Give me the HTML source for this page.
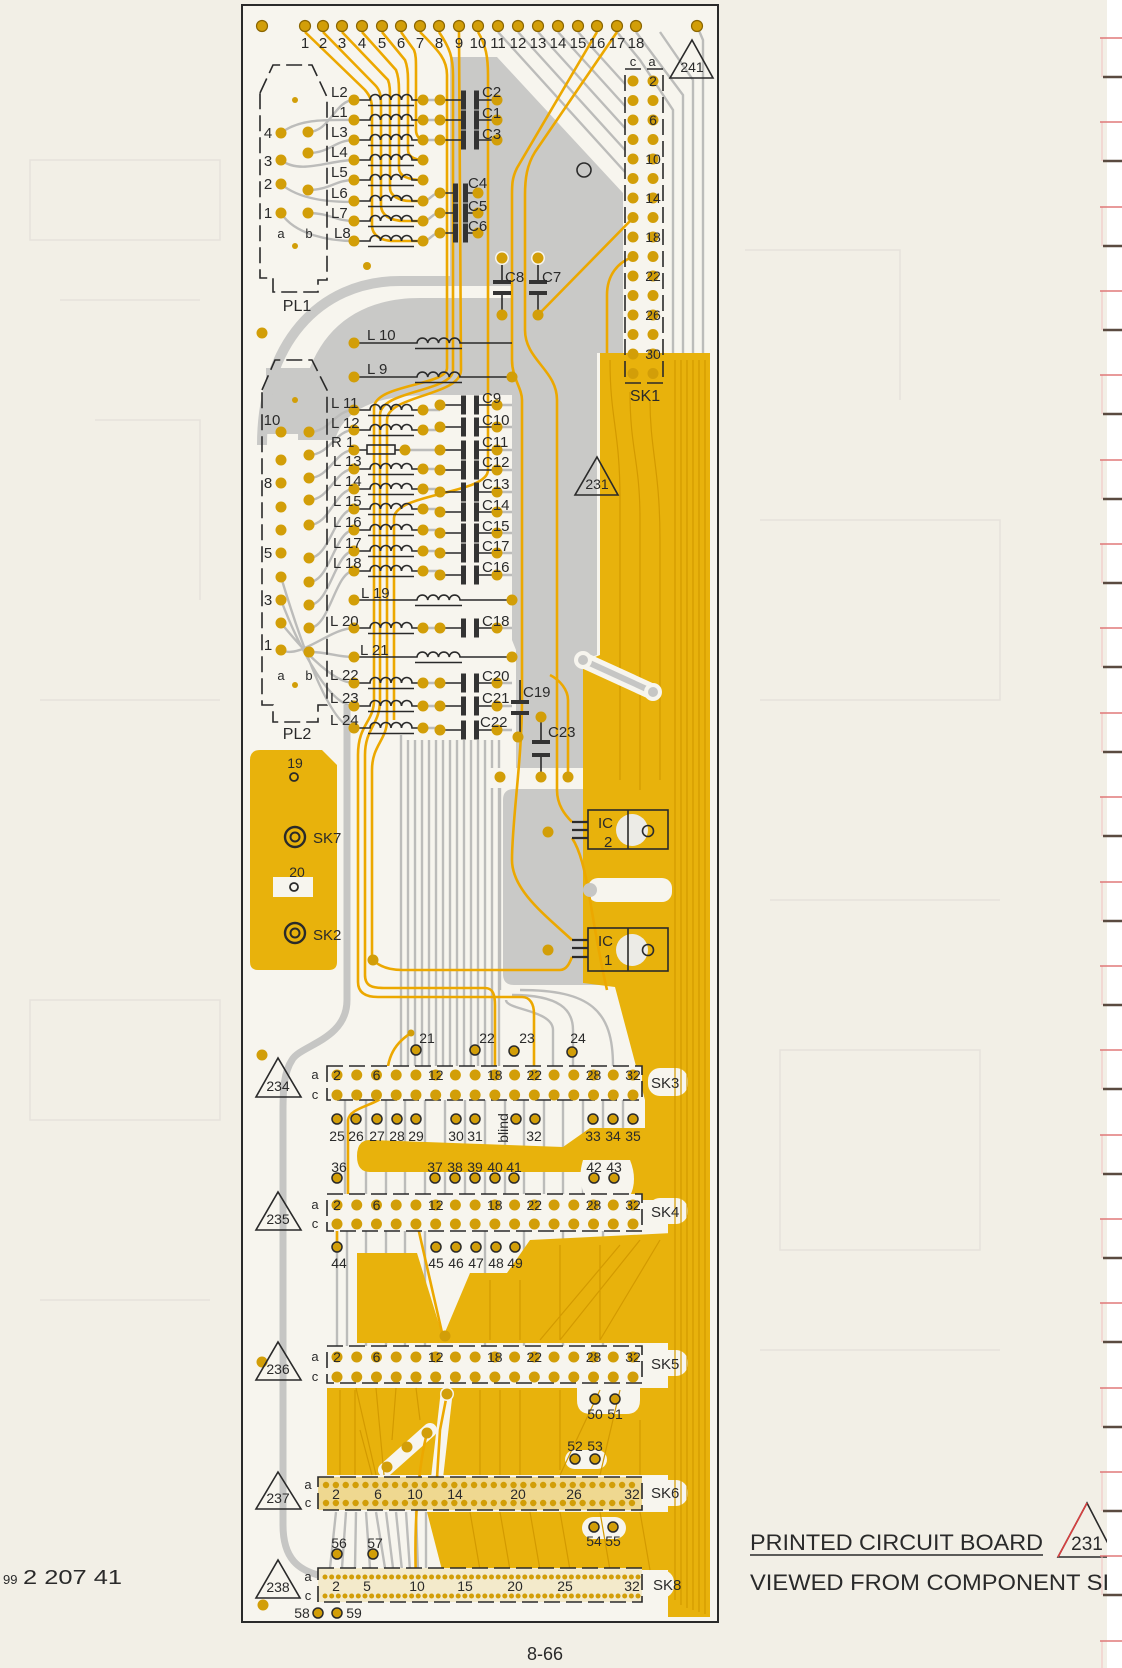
<!DOCTYPE html>
<html><head><meta charset="utf-8"><style>
html,body{margin:0;padding:0;background:#f2efe6;}
svg{display:block;}
text{font-family:"Liberation Sans","DejaVu Sans",sans-serif;fill:#2a2a2a;}
.g{stroke:#bcbcba;stroke-width:2.4;fill:none;}
.y{stroke:#eca800;stroke-width:2.6;fill:none;}
.yd{stroke:#d39a00;stroke-width:1.2;fill:none;}
.k{stroke:#2a2a2a;stroke-width:1.6;fill:none;}
.t{font-size:15px;}
.s{font-size:13px;}
.m{text-anchor:middle;}
</style></head><body>
<svg width="1122" height="1668" viewBox="0 0 1122 1668" xmlns="http://www.w3.org/2000/svg">
<defs>
 <circle id="p" r="5.5" fill="#d29e08"/>
 <circle id="pr" r="5.5" fill="#d29e08" stroke="#8a6500" stroke-width="1.2"/>
 <circle id="ph" r="5" fill="#d29e08" stroke="#2a2a2a" stroke-width="1.5"/>
 <path id="coil" d="M0,0 H16 a5.25,5.5 0 0 1 10.5,0 a5.25,5.5 0 0 1 10.5,0 a5.25,5.5 0 0 1 10.5,0 a5.25,5.5 0 0 1 10.5,0 H69 M14,5.5 H60" stroke="#2a2a2a" stroke-width="1.6" fill="none"/>
 <path id="coilL" d="M0,0 H63 a5.4,5.5 0 0 1 10.75,0 a5.4,5.5 0 0 1 10.75,0 a5.4,5.5 0 0 1 10.75,0 a5.4,5.5 0 0 1 10.75,0 H158 M61,5.5 H108" stroke="#2a2a2a" stroke-width="1.6" fill="none"/>
 <g id="cap"><path d="M0,0 H21 M39,0 H57" stroke="#2a2a2a" stroke-width="1.6"/><rect x="21" y="-9.5" width="5" height="19" fill="#333"/><rect x="34" y="-9.5" width="5" height="19" fill="#333"/></g>
 <g id="cap2"><path d="M0,0 H13 M28,0 H38" stroke="#2a2a2a" stroke-width="1.6"/><rect x="13" y="-9.5" width="5" height="19" fill="#333"/><rect x="23" y="-9.5" width="5" height="19" fill="#333"/></g>
 <g id="row16" fill="#d29e08">
  <circle cx="0" r="5.5"/><circle cx="19.73" r="5.5"/><circle cx="39.47" r="5.5"/><circle cx="59.2" r="5.5"/><circle cx="78.93" r="5.5"/><circle cx="98.67" r="5.5"/><circle cx="118.4" r="5.5"/><circle cx="138.13" r="5.5"/><circle cx="157.87" r="5.5"/><circle cx="177.6" r="5.5"/><circle cx="197.33" r="5.5"/><circle cx="217.07" r="5.5"/><circle cx="236.8" r="5.5"/><circle cx="256.53" r="5.5"/><circle cx="276.27" r="5.5"/><circle cx="296" r="5.5"/>
 </g>
 <g id="col16" fill="#d29e08">
  <circle cy="0" r="5.5"/><circle cy="19.5" r="5.5"/><circle cy="39" r="5.5"/><circle cy="58.5" r="5.5"/><circle cy="78" r="5.5"/><circle cy="97.5" r="5.5"/><circle cy="117" r="5.5"/><circle cy="136.5" r="5.5"/><circle cy="156" r="5.5"/><circle cy="175.5" r="5.5"/><circle cy="195" r="5.5"/><circle cy="214.5" r="5.5"/><circle cy="234" r="5.5"/><circle cy="253.5" r="5.5"/><circle cy="273" r="5.5"/><circle cy="292.5" r="5.5"/>
 </g>
 <g id="row32" fill="#d29e08">
  <circle cx="0" r="3.2"/><circle cx="9.87" r="3.2"/><circle cx="19.74" r="3.2"/><circle cx="29.61" r="3.2"/><circle cx="39.48" r="3.2"/><circle cx="49.35" r="3.2"/><circle cx="59.22" r="3.2"/><circle cx="69.09" r="3.2"/><circle cx="78.96" r="3.2"/><circle cx="88.83" r="3.2"/><circle cx="98.7" r="3.2"/><circle cx="108.57" r="3.2"/><circle cx="118.44" r="3.2"/><circle cx="128.31" r="3.2"/><circle cx="138.18" r="3.2"/><circle cx="148.05" r="3.2"/><circle cx="157.92" r="3.2"/><circle cx="167.79" r="3.2"/><circle cx="177.66" r="3.2"/><circle cx="187.53" r="3.2"/><circle cx="197.4" r="3.2"/><circle cx="207.27" r="3.2"/><circle cx="217.14" r="3.2"/><circle cx="227.01" r="3.2"/><circle cx="236.88" r="3.2"/><circle cx="246.75" r="3.2"/><circle cx="256.62" r="3.2"/><circle cx="266.49" r="3.2"/><circle cx="276.36" r="3.2"/><circle cx="286.23" r="3.2"/><circle cx="296.1" r="3.2"/><circle cx="305.97" r="3.2"/>
 </g>
 <g id="row48" fill="#d29e08">
  <circle cx="0" r="2.5"/><circle cx="6.66" r="2.5"/><circle cx="13.32" r="2.5"/><circle cx="19.98" r="2.5"/><circle cx="26.64" r="2.5"/><circle cx="33.3" r="2.5"/><circle cx="39.96" r="2.5"/><circle cx="46.62" r="2.5"/><circle cx="53.28" r="2.5"/><circle cx="59.94" r="2.5"/><circle cx="66.6" r="2.5"/><circle cx="73.26" r="2.5"/><circle cx="79.92" r="2.5"/><circle cx="86.58" r="2.5"/><circle cx="93.24" r="2.5"/><circle cx="99.9" r="2.5"/><circle cx="106.56" r="2.5"/><circle cx="113.22" r="2.5"/><circle cx="119.88" r="2.5"/><circle cx="126.54" r="2.5"/><circle cx="133.2" r="2.5"/><circle cx="139.86" r="2.5"/><circle cx="146.52" r="2.5"/><circle cx="153.18" r="2.5"/><circle cx="159.84" r="2.5"/><circle cx="166.5" r="2.5"/><circle cx="173.16" r="2.5"/><circle cx="179.82" r="2.5"/><circle cx="186.48" r="2.5"/><circle cx="193.14" r="2.5"/><circle cx="199.8" r="2.5"/><circle cx="206.46" r="2.5"/><circle cx="213.12" r="2.5"/><circle cx="219.78" r="2.5"/><circle cx="226.44" r="2.5"/><circle cx="233.1" r="2.5"/><circle cx="239.76" r="2.5"/><circle cx="246.42" r="2.5"/><circle cx="253.08" r="2.5"/><circle cx="259.74" r="2.5"/><circle cx="266.4" r="2.5"/><circle cx="273.06" r="2.5"/><circle cx="279.72" r="2.5"/><circle cx="286.38" r="2.5"/><circle cx="293.04" r="2.5"/><circle cx="299.7" r="2.5"/><circle cx="306.36" r="2.5"/><circle cx="313.02" r="2.5"/>
 </g>
</defs>

<!-- page -->
<rect x="0" y="0" width="1122" height="1668" fill="#f2efe6"/>
<g stroke="#e6e2dc" stroke-width="1.5" fill="none">
 <path d="M30,160 H220 V240 H30 Z M60,300 H200 M95,420 H200 V600 M40,700 H220 M30,1000 H220 V1120 H30 Z M40,1300 H210"/>
 <path d="M745,250 H900 V400 M760,520 H1000 V700 H760 M770,900 H1000 M780,1050 H980 V1250 H780 Z M760,1350 H1000"/>
</g>

<!-- board -->
<rect x="242" y="5" width="476" height="1617" fill="#f7f5ee" stroke="#2a2a2a" stroke-width="2"/>

<!-- gray regions -->
<g fill="#c9c9c7">
 <path d="M450,57 L497,57 L623,193 L623,353 L597,353 L597,580 L512,580 L512,286 L450,286 Z"/>
 <path d="M298,440 C298,350 340,298 420,298 L512,298 L512,395 L430,395 C385,395 345,405 335,440 Z"/>
 <rect x="266" y="368" width="58" height="66"/>
 <path d="M512,580 L597,580 L597,655 L583,660 L583,768 L516,768 L516,650 L512,640 Z"/>
 <path d="M503,800 Q503,789 514,789 L590,789 L590,965 L667,967 L667,985 L514,985 Q503,985 503,974 Z"/>
</g>
<path d="M262,445 C262,345 318,281 400,281 L512,281" stroke="#c9c9c7" stroke-width="10" fill="none"/>

<!-- gray traces -->
<g class="g">
 <path d="M308,132 C330,132 335,100 354,100 M281,133 C300,118 330,120 354,120 M308,153 C330,153 335,140 354,140 M281,160 C300,175 330,160 354,160 M308,190 C330,190 335,180 354,180 M281,184 C300,200 330,202 354,202 M308,213 C330,213 335,221 354,221 M281,213 C295,235 330,241 354,241"/>
 <path d="M423,100 H440 M423,120 H440 M423,140 H440 M423,201 C430,201 432,193 440,193 M423,221 C430,221 432,213 440,213 M423,241 C430,241 432,233 440,233"/>
 <path d="M498,32 L625,172 M518,32 L625,150 M538,32 L625,128 M558,32 L625,106 M578,32 L625,84"/>
 <path d="M617,32 L640,60 L673,110 L673,353 M636,32 L683,95 L683,353 M660,32 L693,80 L693,353 M697,26 L703,40 L703,353"/>
 <path d="M309,432 C330,432 335,410 354,410 M309,455 C330,455 335,430 354,430 M309,478 C330,478 335,450 354,450 M309,500 C330,500 335,469 354,469 M309,525 C330,525 335,489 354,489 M309,558 C330,558 335,509 354,509 M309,582 C330,582 335,530 354,530 M309,605 C330,605 335,551 354,551 M309,628 C330,628 335,571 354,571 M281,650 C300,660 330,628 354,628 M309,652 C330,652 335,657 354,657 M281,623 C295,640 330,683 354,683 M281,600 C300,650 330,706 354,706 M281,577 C300,640 330,728 354,728"/>
 <path d="M423,410 H440 M423,430 H440 M405,450 H440 M423,469 H440 M423,489 H440 M423,509 H440 M423,530 H440 M423,551 H440 M423,571 H440 M423,628 H440 M423,683 H440 M423,706 H440 M423,728 H440"/>
 <path d="M497,405 H512 M497,427 H512 M497,450 H512 M497,470 H512 M497,492 H512 M497,512 H512 M497,533 H512 M497,553 H512 M497,575 H512 M497,628 H512 M497,683 H512 M497,706 H512 M497,730 H512"/>
 <path d="M401,735 V1066 M408,740 V1066 M415,740 V1066 M422,740 V1066 M429,740 V1066 M436,740 V1066 M443,740 V1066 M450,740 V1066 M457,740 V1066 M464,740 V1066 M471,740 V1066 M478,740 V1066 M485,740 V1066 M492,740 V1066 M499,740 V1066"/>
 <path d="M500,777 V990 M506,1000 C506,1010 553,1010 553,1030 V1066 M512,995 C560,995 573,1010 573,1030 V1066 M520,990 C590,990 613,1010 613,1066"/>
 <path d="M345,1100 V1194 M366,1100 V1194 M386,1100 V1194 M405,1100 V1194 M425,1100 V1194 M445,1100 V1194 M465,1100 V1194 M485,1100 V1194 M505,1100 V1194 M524,1100 V1194 M544,1100 V1194 M563,1100 V1194 M583,1100 V1194 M603,1100 V1194 M623,1100 V1194"/>
 <path d="M337,1231 V1346 M347,1231 V1346 M366,1231 V1346 M386,1231 V1346 M405,1231 V1346 M425,1231 V1346 M485,1231 V1346 M524,1231 V1346 M563,1231 V1346 M603,1231 V1346"/>
 <path d="M336,1512 L330,1568 M346,1512 L342,1568 M356,1512 L355,1568 M366,1512 L370,1568 M376,1512 L385,1568 M386,1512 L397,1600 M396,1512 L405,1600 M406,1512 L412,1600 M416,1512 L419,1600 M426,1512 L426,1600"/>
</g>
<path d="M347,705 L347,1000 C347,1040 300,1045 292,1060 C284,1072 283,1090 283,1110 L283,1525 C283,1560 300,1570 318,1575" stroke="#c6c6c4" stroke-width="7" fill="none"/>

<!-- yellow regions -->
<g fill="#e8b20c">
 <path d="M600,353 L710,353 L710,1617 L668,1617 L668,1000 L615,987 L583,983 L583,662 L600,655 Z"/>
 <path d="M615,987 L672,987 L672,1200 L645,1200 L645,1100 Z"/>
 <path d="M370,1140 L563,1147 L590,1128 L672,1128 L672,1200 L600,1200 L585,1172 L370,1172 Q357,1172 357,1156 Q357,1140 370,1140 Z"/>
 <path d="M357,1253 L417,1253 L443,1337 L470,1273 L507,1273 L530,1240 L672,1233 L672,1343 L357,1343 Z"/>
 <path d="M327,1388 L672,1388 L672,1475 L327,1475 Z"/>
 <path d="M427,1512 L672,1512 L672,1570 L442,1570 Z"/>
 <path d="M260,750 L322,750 L337,765 L337,962 Q337,970 329,970 L258,970 Q250,970 250,962 L250,760 Q250,750 260,750 Z"/>
</g>
<!-- cutouts on yellow -->
<g fill="#f7f5ee">
 <rect x="588" y="878" width="84" height="24" rx="10"/>
 <rect x="273" y="877" width="40" height="20"/>
 <path d="M583,1160 Q577,1180 585,1196 L630,1196 Q638,1180 630,1160 Z"/>
 <path d="M577,1383 L640,1383 L640,1400 Q640,1414 626,1414 L591,1414 Q577,1414 577,1400 Z"/>
 <rect x="565" y="1450" width="42" height="19" rx="9.5"/>
 <rect x="582" y="1517" width="44" height="22" rx="11"/>
 <rect x="648" y="1068" width="40" height="28" rx="12"/>
 <rect x="648" y="1198" width="40" height="26" rx="12"/>
 <rect x="648" y="1350" width="40" height="26" rx="12"/>
 <rect x="648" y="1480" width="40" height="26" rx="12"/>
 <rect x="640" y="1570" width="34" height="28" rx="12"/>
</g>
<path d="M447,1390 L437,1478" stroke="#f7f5ee" stroke-width="12"/>
<path d="M430,1430 L385,1470" stroke="#f7f5ee" stroke-width="14" stroke-linecap="round"/>
<!-- darker lines in yellow -->
<g class="yd">
 <path d="M675,360 V1600 M681,360 V1605 M687,360 V1608 M693,360 V1610 M699,360 V1612 M705,360 V1614"/>
 <path d="M610,360 C610,420 620,430 620,500 V780 M630,392 C630,450 640,460 640,520 V790 M650,400 C650,450 660,470 660,540 V780"/>
 <path d="M660,1240 L600,1340 M640,1240 L560,1340 M620,1245 L540,1340 M560,1245 V1340 M600,1245 V1340 M520,1280 V1340 M490,1280 V1340"/>
 <path d="M356,1388 L376,1475 M376,1388 L384,1475 M396,1388 L392,1440 M416,1388 L420,1420 M360,1430 L372,1475"/>
 <path d="M600,1390 L560,1475 M620,1390 L600,1475 M640,1420 V1475 M520,1390 V1475 M480,1390 V1475 M500,1390 V1475 M560,1390 V1470 M340,1390 V1475 M355,1390 V1475"/>
 <path d="M470,1512 L480,1570 M500,1512 L510,1570 M530,1512 L540,1570 M560,1512 L570,1570 M600,1512 L610,1570 M640,1512 L650,1570"/>
</g>
<!-- white arm -->
<path d="M583,660 L653,692" stroke="#f7f5ee" stroke-width="16" stroke-linecap="round"/>
<path d="M583,660 L653,692" stroke="#c6c6c4" stroke-width="6"/>
<circle cx="583" cy="660" r="9" fill="#f7f5ee"/><circle cx="583" cy="660" r="5" fill="#c6c6c4"/>
<circle cx="653" cy="692" r="9" fill="#f7f5ee"/><circle cx="653" cy="692" r="5" fill="#c6c6c4"/>
<rect x="490" y="768" width="90" height="20" fill="#f7f5ee"/>

<!-- yellow traces -->
<g class="y">
 <path d="M305,32 L365,90 C370,96 372,100 372,110 L372,225 C372,235 380,241 395,241 L423,241"/>
 <path d="M323,32 L375,85 C380,90 381,95 381,105 L381,205 C381,215 390,221 405,221 L423,221"/>
 <path d="M342,32 L388,80 C390,85 390,90 390,100 L390,188 C390,196 400,201 410,201 L423,201"/>
 <path d="M362,32 L396,70 C398,75 399,80 399,90 L399,168 C399,176 408,180 423,180"/>
 <path d="M382,32 L405,60 C407,65 408,70 408,80 L408,150 C408,156 414,160 423,160"/>
 <path d="M401,32 L414,50 C416,55 416,60 416,70 L416,130 C416,136 420,140 423,140"/>
 <path d="M439,32 C450,48 453,58 453,75 L453,370 C453,392 380,390 380,415 L380,700 C380,725 365,728 365,755 L365,975 C365,986 372,988 384,988 L485,988 C493,988 495,995 495,1005 L495,1068"/>
 <path d="M420,32 C440,52 447,60 447,75 L447,368 C447,386 374,384 374,408 L374,700 C374,722 358,724 358,755 L358,982 C358,993 366,997 378,997 L522,997 C530,997 534,1004 534,1014 L534,1068"/>
 <path d="M459,32 L461,370 C461,396 387,395 387,420 L387,720 C387,740 372,745 372,770 L372,958"/>
 <path d="M478,32 C486,45 488,58 488,75 L488,470 C488,494 395,493 394,518 L394,720"/>
 <path d="M597,32 L517,168 C512,178 512,185 512,195 L512,360 C512,378 522,388 522,400 L522,700 C522,760 512,820 512,860 C512,890 545,915 572,940"/>
 <path d="M617,32 L535,152 C527,165 525,178 525,195 L525,330 C525,360 557,370 557,400 L557,790 C557,805 565,815 572,822"/>
 <path d="M538,315 L633,218"/>
 <path d="M633,257 C618,262 607,275 607,295 L607,353"/>
 <path d="M373,960 C380,967 390,970 402,970 L560,970 C567,970 570,962 572,957"/>
 <path d="M572,838 C580,850 585,870 590,900 C595,930 600,960 607,990"/>
 <path d="M568,777 L568,700 C568,690 560,680 550,675"/>
 <path d="M411,1033 C392,1045 386,1060 386,1090 C386,1105 350,1105 348,1120 L348,1200"/>
 <path d="M337,1223 L337,1247 M417,1223 L443,1337 M447,1394 L440,1430 L437,1478 M427,1433 C420,1460 412,1520 417,1600"/>
</g>

<!-- SK backgrounds -->
<rect x="327" y="1066" width="315" height="34" fill="#f7f5ee"/>
<rect x="327" y="1194" width="315" height="37" fill="#f7f5ee"/>
<rect x="327" y="1346" width="315" height="37" fill="#f7f5ee"/>
<rect x="318" y="1477" width="324" height="33" fill="#efd890"/>
<rect x="318" y="1568" width="324" height="34" fill="#f3eacb"/>

<!-- outlines -->
<g class="k" stroke-dasharray="16,6">
 <path d="M260,93 L273,65 L312,65 L327,97 L327,280 L318,280 L318,292 L273,292 L273,278 L260,278 Z"/>
 <path d="M262,390 L275,360 L312,360 L327,390 L327,705 L318,705 L318,722 L273,722 L273,705 L262,705 Z"/>
 <rect x="625" y="69" width="38" height="314"/>
 <rect x="327" y="1066" width="315" height="34"/>
 <rect x="327" y="1194" width="315" height="37"/>
 <rect x="327" y="1346" width="315" height="37"/>
 <rect x="318" y="1477" width="324" height="33"/>
 <rect x="318" y="1568" width="324" height="34"/>
</g>

<!-- inductors -->
<use href="#coil" x="354" y="100"/><use href="#coil" x="354" y="120"/><use href="#coil" x="354" y="140"/><use href="#coil" x="354" y="160"/>
<use href="#coil" x="354" y="180"/><use href="#coil" x="354" y="201"/><use href="#coil" x="354" y="221"/><use href="#coil" x="354" y="241"/>
<use href="#coilL" x="354" y="343"/><use href="#coilL" x="354" y="377"/>
<use href="#coil" x="354" y="410"/><use href="#coil" x="354" y="430"/>
<path d="M354,450 H367 M395,450 H405" class="k"/><rect x="367" y="445" width="28" height="9" class="k"/>
<use href="#coil" x="354" y="469"/><use href="#coil" x="354" y="489"/><use href="#coil" x="354" y="509"/><use href="#coil" x="354" y="530"/>
<use href="#coil" x="354" y="551"/><use href="#coil" x="354" y="571"/>
<use href="#coilL" x="354" y="600"/><use href="#coil" x="354" y="628"/><use href="#coilL" x="354" y="657"/>
<use href="#coil" x="354" y="683"/><use href="#coil" x="354" y="706"/><use href="#coil" x="354" y="728"/>

<!-- capacitors -->
<use href="#cap" x="440" y="100"/><use href="#cap" x="440" y="120"/><use href="#cap" x="440" y="140"/>
<use href="#cap2" x="440" y="193"/><use href="#cap2" x="440" y="213"/><use href="#cap2" x="440" y="233"/>
<use href="#cap" x="440" y="405"/><use href="#cap" x="440" y="427"/><use href="#cap" x="440" y="450"/><use href="#cap" x="440" y="470"/>
<use href="#cap" x="440" y="492"/><use href="#cap" x="440" y="512"/><use href="#cap" x="440" y="533"/><use href="#cap" x="440" y="553"/>
<use href="#cap" x="440" y="575"/><use href="#cap" x="440" y="628"/><use href="#cap" x="440" y="683"/><use href="#cap" x="440" y="706"/><use href="#cap" x="440" y="730"/>
<!-- vertical caps -->
<g fill="#333">
 <path d="M502,258 V281 M502,295 V315 M538,258 V281 M538,295 V315 M520,680 V701 M520,715 V737 M541,717 V741 M541,757 V777" class="k"/>
 <rect x="493" y="280" width="18" height="4"/><rect x="493" y="291" width="18" height="4"/>
 <rect x="529" y="280" width="18" height="4"/><rect x="529" y="291" width="18" height="4"/>
 <rect x="511" y="700" width="18" height="4"/><rect x="511" y="711" width="18" height="4"/>
 <rect x="532" y="740" width="18" height="4"/><rect x="532" y="753" width="18" height="4"/>
</g>

<!-- ICs -->
<circle cx="632" cy="830" r="16" fill="#ecebe6"/>
<circle cx="632" cy="950" r="16" fill="#ecebe6"/>
<g class="k">
 <rect x="588" y="810" width="80" height="39"/><path d="M628,810 V849"/>
 <rect x="588" y="928" width="80" height="43"/><path d="M628,928 V971"/>
 <path d="M572,822 H588 M572,830 H588 M572,838 H588 M572,940 H588 M572,948 H588 M572,957 H588" stroke-width="2.2"/>
 <circle cx="648" cy="831" r="5.5"/><circle cx="648" cy="950" r="5.5"/>
 <circle cx="584" cy="170" r="7"/>
</g>

<!-- pads -->
<g>
 <use href="#pr" x="262" y="26"/><use href="#pr" x="305" y="26"/><use href="#pr" x="323" y="26"/><use href="#pr" x="342" y="26"/><use href="#pr" x="362" y="26"/><use href="#pr" x="382" y="26"/><use href="#pr" x="401" y="26"/><use href="#pr" x="420" y="26"/><use href="#pr" x="439" y="26"/><use href="#pr" x="459" y="26"/><use href="#pr" x="478" y="26"/><use href="#pr" x="498" y="26"/><use href="#pr" x="518" y="26"/><use href="#pr" x="538" y="26"/><use href="#pr" x="558" y="26"/><use href="#pr" x="578" y="26"/><use href="#pr" x="597" y="26"/><use href="#pr" x="617" y="26"/><use href="#pr" x="636" y="26"/><use href="#pr" x="697" y="26"/>
 <use href="#p" x="262" y="333"/><use href="#p" x="262" y="1055"/><use href="#p" x="262" y="1362"/><use href="#p" x="263" y="1605"/>
 <circle cx="367" cy="266" r="4" fill="#d29e08"/>
 <use href="#p" x="281" y="133"/><use href="#p" x="281" y="160"/><use href="#p" x="281" y="184"/><use href="#p" x="281" y="213"/>
 <use href="#p" x="308" y="132"/><use href="#p" x="308" y="153"/><use href="#p" x="308" y="190"/><use href="#p" x="308" y="213"/>
 <circle cx="295" cy="100" r="3" fill="#d29e08"/><circle cx="295" cy="246" r="3" fill="#d29e08"/>
 <use href="#p" x="281" y="432"/><use href="#p" x="281" y="460"/><use href="#p" x="281" y="483"/><use href="#p" x="281" y="507"/><use href="#p" x="281" y="530"/><use href="#p" x="281" y="553"/><use href="#p" x="281" y="577"/><use href="#p" x="281" y="600"/><use href="#p" x="281" y="623"/><use href="#p" x="281" y="650"/>
 <use href="#p" x="309" y="432"/><use href="#p" x="309" y="455"/><use href="#p" x="309" y="478"/><use href="#p" x="309" y="500"/><use href="#p" x="309" y="525"/><use href="#p" x="309" y="558"/><use href="#p" x="309" y="582"/><use href="#p" x="309" y="605"/><use href="#p" x="309" y="628"/><use href="#p" x="309" y="652"/>
 <circle cx="295" cy="400" r="3" fill="#d29e08"/><circle cx="295" cy="685" r="3" fill="#d29e08"/>
 <use href="#p" x="354" y="100"/><use href="#p" x="354" y="120"/><use href="#p" x="354" y="140"/><use href="#p" x="354" y="160"/><use href="#p" x="354" y="180"/><use href="#p" x="354" y="201"/><use href="#p" x="354" y="221"/><use href="#p" x="354" y="241"/>
 <use href="#p" x="423" y="100"/><use href="#p" x="423" y="120"/><use href="#p" x="423" y="140"/><use href="#p" x="423" y="160"/><use href="#p" x="423" y="180"/><use href="#p" x="423" y="201"/><use href="#p" x="423" y="221"/><use href="#p" x="423" y="241"/>
 <use href="#p" x="354" y="343"/><use href="#p" x="354" y="377"/><use href="#p" x="512" y="377"/>
 <use href="#p" x="354" y="410"/><use href="#p" x="354" y="430"/><use href="#p" x="354" y="450"/><use href="#p" x="354" y="469"/><use href="#p" x="354" y="489"/><use href="#p" x="354" y="509"/><use href="#p" x="354" y="530"/><use href="#p" x="354" y="551"/><use href="#p" x="354" y="571"/><use href="#p" x="354" y="600"/><use href="#p" x="354" y="628"/><use href="#p" x="354" y="657"/><use href="#p" x="354" y="683"/><use href="#p" x="354" y="706"/><use href="#p" x="354" y="728"/>
 <use href="#p" x="423" y="410"/><use href="#p" x="423" y="430"/><use href="#p" x="405" y="450"/><use href="#p" x="423" y="469"/><use href="#p" x="423" y="489"/><use href="#p" x="423" y="509"/><use href="#p" x="423" y="530"/><use href="#p" x="423" y="551"/><use href="#p" x="423" y="571"/><use href="#p" x="423" y="628"/><use href="#p" x="423" y="683"/><use href="#p" x="423" y="706"/><use href="#p" x="423" y="728"/>
 <use href="#p" x="512" y="600"/><use href="#p" x="512" y="657"/>
 <use href="#p" x="440" y="100"/><use href="#p" x="440" y="120"/><use href="#p" x="440" y="140"/><use href="#p" x="497" y="100"/><use href="#p" x="497" y="120"/><use href="#p" x="497" y="140"/>
 <use href="#p" x="440" y="193"/><use href="#p" x="440" y="213"/><use href="#p" x="440" y="233"/><use href="#p" x="478" y="193"/><use href="#p" x="478" y="213"/><use href="#p" x="478" y="233"/>
 <use href="#p" x="440" y="405"/><use href="#p" x="440" y="427"/><use href="#p" x="440" y="450"/><use href="#p" x="440" y="470"/><use href="#p" x="440" y="492"/><use href="#p" x="440" y="512"/><use href="#p" x="440" y="533"/><use href="#p" x="440" y="553"/><use href="#p" x="440" y="575"/><use href="#p" x="440" y="628"/><use href="#p" x="440" y="683"/><use href="#p" x="440" y="706"/><use href="#p" x="440" y="730"/>
 <use href="#p" x="497" y="405"/><use href="#p" x="497" y="427"/><use href="#p" x="497" y="450"/><use href="#p" x="497" y="470"/><use href="#p" x="497" y="492"/><use href="#p" x="497" y="512"/><use href="#p" x="497" y="533"/><use href="#p" x="497" y="553"/><use href="#p" x="497" y="575"/><use href="#p" x="497" y="628"/><use href="#p" x="497" y="683"/><use href="#p" x="497" y="706"/><use href="#p" x="497" y="730"/>
 <circle cx="502" cy="258" r="7" fill="#f7f5ee"/><circle cx="538" cy="258" r="7" fill="#f7f5ee"/>
 <use href="#p" x="502" y="258"/><use href="#p" x="538" y="258"/><use href="#p" x="502" y="315"/><use href="#p" x="538" y="315"/>
 <use href="#p" x="518" y="737"/><use href="#p" x="541" y="717"/><use href="#p" x="541" y="777"/><use href="#p" x="500" y="777"/><use href="#p" x="568" y="777"/>
 <use href="#p" x="548" y="832"/><use href="#p" x="548" y="950"/>
 <circle cx="590" cy="890" r="7" fill="#c6c6c4"/>
 <use href="#p" x="373" y="960"/>
 <use href="#col16" x="633" y="81"/><use href="#col16" x="653" y="81"/>
 <use href="#row16" x="337" y="1075"/><use href="#row16" x="337" y="1095"/>
 <use href="#row16" x="337" y="1205"/><use href="#row16" x="337" y="1224"/>
 <use href="#row16" x="337" y="1357"/><use href="#row16" x="337" y="1377"/>
 <use href="#row32" x="326" y="1485"/><use href="#row32" x="326" y="1503"/>
 <use href="#row48" x="325" y="1577"/><use href="#row48" x="325" y="1596"/>
 <circle cx="411" cy="1033" r="3.5" fill="#d29e08"/>
 <use href="#ph" x="416" y="1050"/><use href="#ph" x="475" y="1050"/><use href="#ph" x="514" y="1051"/><use href="#ph" x="572" y="1052"/>
 <use href="#ph" x="337" y="1119"/><use href="#ph" x="356" y="1119"/><use href="#ph" x="377" y="1119"/><use href="#ph" x="397" y="1119"/><use href="#ph" x="416" y="1119"/><use href="#ph" x="456" y="1119"/><use href="#ph" x="475" y="1119"/><use href="#ph" x="516" y="1119"/><use href="#ph" x="535" y="1119"/><use href="#ph" x="593" y="1119"/><use href="#ph" x="613" y="1119"/><use href="#ph" x="633" y="1119"/>
 <use href="#ph" x="337" y="1178"/><use href="#ph" x="435" y="1178"/><use href="#ph" x="455" y="1178"/><use href="#ph" x="475" y="1178"/><use href="#ph" x="495" y="1178"/><use href="#ph" x="514" y="1178"/><use href="#ph" x="594" y="1178"/><use href="#ph" x="614" y="1178"/>
 <use href="#ph" x="337" y="1247"/><use href="#ph" x="436" y="1247"/><use href="#ph" x="456" y="1247"/><use href="#ph" x="476" y="1247"/><use href="#ph" x="496" y="1247"/><use href="#ph" x="515" y="1247"/>
 <use href="#ph" x="595" y="1399"/><use href="#ph" x="615" y="1399"/><use href="#ph" x="575" y="1459"/><use href="#ph" x="595" y="1459"/>
 <use href="#ph" x="594" y="1527"/><use href="#ph" x="613" y="1527"/><use href="#ph" x="337" y="1554"/><use href="#ph" x="373" y="1554"/>
 <use href="#ph" x="318" y="1613"/><use href="#ph" x="337" y="1613"/>
 <use href="#p" x="445" y="1336"/>
 <circle cx="447" cy="1394" r="7" fill="#f7f5ee"/><use href="#p" x="447" y="1394"/>
 <use href="#p" x="427" y="1433"/><use href="#p" x="407" y="1447"/><use href="#p" x="387" y="1467"/>
</g>
<g stroke="#2a2a2a" fill="none">
 <circle cx="295" cy="837" r="10" stroke-width="2.4"/><circle cx="295" cy="837" r="4.5" stroke-width="2"/>
 <circle cx="295" cy="933" r="10" stroke-width="2.4"/><circle cx="295" cy="933" r="4.5" stroke-width="2"/>
 <circle cx="294" cy="777" r="4" stroke-width="1.8"/><circle cx="294" cy="887" r="4" stroke-width="1.8"/>
</g>

<!-- triangles -->
<g class="k">
 <path d="M670,78 L713,78 L692,40 Z"/>
 <path d="M575,495 L618,495 L597,457 Z"/>
 <path d="M256,1097 L301,1097 L278,1058 Z"/>
 <path d="M256,1230 L301,1230 L278,1192 Z"/>
 <path d="M256,1380 L301,1380 L278,1342 Z"/>
 <path d="M256,1509 L301,1509 L278,1472 Z"/>
 <path d="M256,1598 L300,1598 L278,1560 Z"/>
 <path d="M1058,1557 L1115,1557 L1087,1503 Z"/>
</g>
<path d="M1058,1557 L1087,1503" stroke="#d84040" stroke-width="1.6"/>

<!-- text -->
<g class="t m">
 <text x="305" y="48">1</text><text x="323" y="48">2</text><text x="342" y="48">3</text><text x="362" y="48">4</text><text x="382" y="48">5</text><text x="401" y="48">6</text><text x="420" y="48">7</text><text x="439" y="48">8</text><text x="459" y="48">9</text><text x="478" y="48">10</text><text x="498" y="48">11</text><text x="518" y="48">12</text><text x="538" y="48">13</text><text x="558" y="48">14</text><text x="578" y="48">15</text><text x="597" y="48">16</text><text x="617" y="48">17</text><text x="636" y="48">18</text>
 <text x="692" y="72" style="font-size:14px">241</text>
 <text x="597" y="489" style="font-size:14px">231</text>
 <text x="278" y="1091" style="font-size:14px">234</text>
 <text x="278" y="1224" style="font-size:14px">235</text>
 <text x="278" y="1374" style="font-size:14px">236</text>
 <text x="278" y="1503" style="font-size:14px">237</text>
 <text x="278" y="1592" style="font-size:14px">238</text>
 <text x="297" y="311" style="font-size:16px">PL1</text>
 <text x="297" y="739" style="font-size:16px">PL2</text>
 <text x="645" y="401" style="font-size:16px">SK1</text>
 <text x="268" y="138">4</text><text x="268" y="166">3</text><text x="268" y="189">2</text><text x="268" y="218">1</text>
 <text x="281" y="238" class="s">a</text><text x="309" y="238" class="s">b</text>
 <text x="272" y="425">10</text><text x="268" y="488">8</text><text x="268" y="558">5</text><text x="268" y="605">3</text><text x="268" y="650">1</text>
 <text x="281" y="680" class="s">a</text><text x="309" y="680" class="s">b</text>
 <text x="633" y="66" class="s">c</text><text x="652" y="66" class="s">a</text>
 <text x="653" y="86" style="font-size:14px">2</text><text x="653" y="125" style="font-size:14px">6</text><text x="653" y="164" style="font-size:14px">10</text><text x="653" y="203" style="font-size:14px">14</text><text x="653" y="242" style="font-size:14px">18</text><text x="653" y="281" style="font-size:14px">22</text><text x="653" y="320" style="font-size:14px">26</text><text x="653" y="359" style="font-size:14px">30</text>
 <text x="295" y="768" style="font-size:14px">19</text><text x="297" y="877" style="font-size:14px">20</text>
</g>
<g class="t">
 <text x="331" y="97">L2</text><text x="331" y="117">L1</text><text x="331" y="137">L3</text><text x="331" y="157">L4</text><text x="331" y="177">L5</text><text x="331" y="198">L6</text><text x="331" y="218">L7</text><text x="334" y="238">L8</text>
 <text x="482" y="97">C2</text><text x="482" y="118">C1</text><text x="482" y="139">C3</text>
 <text x="468" y="188">C4</text><text x="468" y="211">C5</text><text x="468" y="231">C6</text>
 <text x="505" y="282">C8</text><text x="542" y="282">C7</text>
 <text x="367" y="340">L 10</text><text x="367" y="374">L 9</text>
 <text x="331" y="408">L 11</text><text x="331" y="428">L 12</text><text x="331" y="447">R 1</text><text x="333" y="466">L 13</text><text x="333" y="486">L 14</text><text x="333" y="506">L 15</text><text x="333" y="527">L 16</text><text x="333" y="548">L 17</text><text x="333" y="568">L 18</text>
 <text x="361" y="598">L 19</text><text x="330" y="626">L 20</text><text x="360" y="655">L 21</text><text x="330" y="680">L 22</text><text x="330" y="703">L 23</text><text x="330" y="725">L 24</text>
 <text x="482" y="403">C9</text><text x="482" y="425">C10</text><text x="482" y="447">C11</text><text x="482" y="467">C12</text><text x="482" y="489">C13</text><text x="482" y="510">C14</text><text x="482" y="531">C15</text><text x="482" y="551">C17</text><text x="482" y="572">C16</text>
 <text x="482" y="626">C18</text><text x="482" y="681">C20</text><text x="482" y="703">C21</text><text x="480" y="727">C22</text>
 <text x="523" y="697">C19</text><text x="548" y="737">C23</text>
 <text x="598" y="828">IC</text><text x="604" y="847">2</text>
 <text x="598" y="946">IC</text><text x="604" y="965">1</text>
 <text x="313" y="843">SK7</text><text x="313" y="940">SK2</text>
 <text x="651" y="1088">SK3</text><text x="651" y="1217">SK4</text><text x="651" y="1369">SK5</text><text x="651" y="1498">SK6</text><text x="653" y="1590">SK8</text>
</g>
<g class="m" style="font-size:14px">
 <text x="337" y="1080">2</text><text x="376.5" y="1080">6</text><text x="435.7" y="1080">12</text><text x="494.8" y="1080">18</text><text x="534.3" y="1080">22</text><text x="593.5" y="1080">28</text><text x="633" y="1080">32</text>
 <text x="337" y="1210">2</text><text x="376.5" y="1210">6</text><text x="435.7" y="1210">12</text><text x="494.8" y="1210">18</text><text x="534.3" y="1210">22</text><text x="593.5" y="1210">28</text><text x="633" y="1210">32</text>
 <text x="337" y="1362">2</text><text x="376.5" y="1362">6</text><text x="435.7" y="1362">12</text><text x="494.8" y="1362">18</text><text x="534.3" y="1362">22</text><text x="593.5" y="1362">28</text><text x="633" y="1362">32</text>
 <text x="336" y="1499">2</text><text x="378" y="1499">6</text><text x="415" y="1499">10</text><text x="455" y="1499">14</text><text x="518" y="1499">20</text><text x="574" y="1499">26</text><text x="632" y="1499">32</text>
 <text x="336" y="1591">2</text><text x="367" y="1591">5</text><text x="417" y="1591">10</text><text x="465" y="1591">15</text><text x="515" y="1591">20</text><text x="565" y="1591">25</text><text x="632" y="1591">32</text>
 <text x="427" y="1043">21</text><text x="487" y="1043">22</text><text x="527" y="1043">23</text><text x="578" y="1043">24</text>
 <text x="337" y="1141">25</text><text x="356" y="1141">26</text><text x="377" y="1141">27</text><text x="397" y="1141">28</text><text x="416" y="1141">29</text><text x="456" y="1141">30</text><text x="475" y="1141">31</text><text x="534" y="1141">32</text><text x="593" y="1141">33</text><text x="613" y="1141">34</text><text x="633" y="1141">35</text>
 <text x="339" y="1172">36</text><text x="435" y="1172">37</text><text x="455" y="1172">38</text><text x="475" y="1172">39</text><text x="495" y="1172">40</text><text x="514" y="1172">41</text><text x="594" y="1172">42</text><text x="614" y="1172">43</text>
 <text x="339" y="1268">44</text><text x="436" y="1268">45</text><text x="456" y="1268">46</text><text x="476" y="1268">47</text><text x="496" y="1268">48</text><text x="515" y="1268">49</text>
 <text x="595" y="1419">50</text><text x="615" y="1419">51</text><text x="575" y="1451">52</text><text x="595" y="1451">53</text>
 <text x="594" y="1546">54</text><text x="613" y="1546">55</text><text x="339" y="1548">56</text><text x="375" y="1548">57</text>
 <text x="302" y="1618">58</text><text x="354" y="1618">59</text>
 <text x="503" y="1133" transform="rotate(-90 503 1128)">blind</text>
</g>
<g class="m s">
 <text x="315" y="1079">a</text><text x="315" y="1099">c</text>
 <text x="315" y="1209">a</text><text x="315" y="1228">c</text>
 <text x="315" y="1361">a</text><text x="315" y="1381">c</text>
 <text x="308" y="1489">a</text><text x="308" y="1507">c</text>
 <text x="308" y="1581">a</text><text x="308" y="1600">c</text>
</g>

<!-- captions -->
<text x="750" y="1550" style="font-size:22px" textLength="293" lengthAdjust="spacingAndGlyphs">PRINTED CIRCUIT BOARD</text>
<path d="M750,1555 H1043" stroke="#2a2a2a" stroke-width="1.6"/>
<text x="1087" y="1550" class="m" style="font-size:19px">231</text>
<text x="750" y="1590" style="font-size:22px" textLength="392" lengthAdjust="spacingAndGlyphs">VIEWED FROM COMPONENT SIDE</text>
<text x="3" y="1584" style="font-size:13px">99</text>
<text x="23" y="1584" style="font-size:20px" textLength="99" lengthAdjust="spacingAndGlyphs">2 207 41</text>
<text x="527" y="1660" style="font-size:18px">8-66</text>

<!-- right white strip with ticks -->
<rect x="1107" y="0" width="15" height="1668" fill="#ffffff"/>
<g>
 <path d="M1102,38 V77 M1102,122 V161 M1102,207 V246 M1102,291 V330 M1102,375 V414 M1102,460 V499 M1102,544 V583 M1102,628 V667 M1102,713 V752 M1102,797 V836 M1102,882 V921 M1102,966 V1005 M1102,1050 V1089 M1102,1135 V1174 M1102,1219 V1258 M1102,1303 V1342 M1102,1388 V1427 M1102,1472 V1511 M1102,1556 V1595 M1102,1641 V1668" stroke="#f2c0c0" stroke-width="1"/>
 <path d="M1100,38 H1122 M1100,122 H1122 M1100,207 H1122 M1100,291 H1122 M1100,375 H1122 M1100,460 H1122 M1100,544 H1122 M1100,628 H1122 M1100,713 H1122 M1100,797 H1122 M1100,882 H1122 M1100,966 H1122 M1100,1050 H1122 M1100,1135 H1122 M1100,1219 H1122 M1100,1303 H1122 M1100,1388 H1122 M1100,1472 H1122 M1100,1556 H1122 M1100,1641 H1122" stroke="#e07878" stroke-width="1.5"/>
 <path d="M1103,77 H1122 M1103,161 H1122 M1103,246 H1122 M1103,330 H1122 M1103,414 H1122 M1103,499 H1122 M1103,583 H1122 M1103,667 H1122 M1103,752 H1122 M1103,836 H1122 M1103,921 H1122 M1103,1005 H1122 M1103,1089 H1122 M1103,1174 H1122 M1103,1258 H1122 M1103,1342 H1122 M1103,1427 H1122 M1103,1511 H1122 M1103,1595 H1122" stroke="#5a4a40" stroke-width="2.5"/>
</g>
</svg>
</body></html>
